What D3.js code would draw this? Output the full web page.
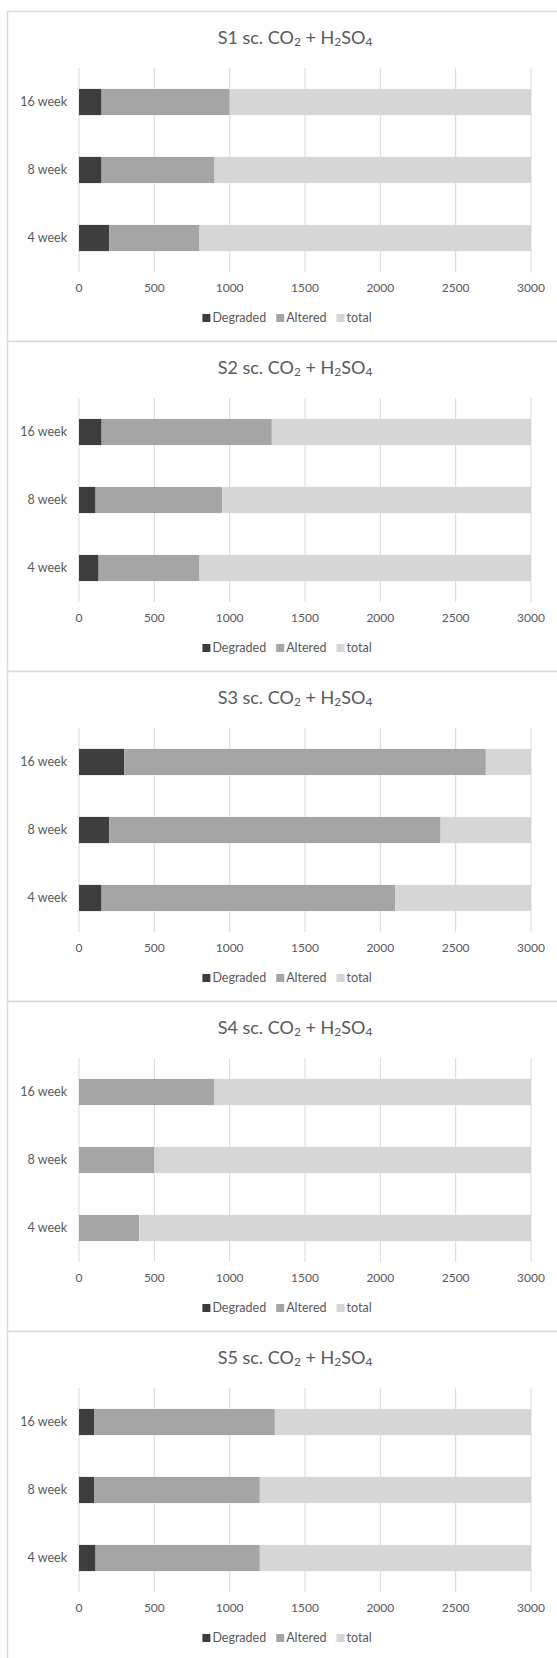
<!DOCTYPE html>
<html>
<head>
<meta charset="utf-8">
<script src="https://cdn.jsdelivr.net/npm/d3@7"></script>
<style>
  body { margin: 0; background: #fff; }
  text { font-family: Lato, "Open Sans", sans-serif; fill: #595959; }
</style>
</head>
<body>
<svg id="chart" width="557" height="1658"></svg>
<script>
let samples = ['S1', 'S2', 'S3', 'S4', 'S5'];
let weeks = ['16 week', '8 week', '4 week'];
let seriesNames = ['Degraded', 'Altered', 'total'];
let colors = ['#3d3d3d', '#a5a5a5', '#d6d6d6'];
let xTicks = [0, 500, 1000, 1500, 2000, 2500, 3000];

// one row per sample, values in weeks order (16, 8, 4)
let degraded = [
  [150, 150, 200],
  [150, 110, 130],
  [300, 200, 150],
  [0, 0, 0],
  [100, 100, 110]
];
let altered = [
  [850, 750, 600],
  [1130, 840, 670],
  [2400, 2200, 1950],
  [900, 500, 400],
  [1200, 1100, 1090]
];
let total = [
  [2000, 2100, 2200],
  [1720, 2050, 2200],
  [300, 600, 900],
  [2100, 2500, 2600],
  [1700, 1800, 1800]
];

let panelH = 330;
let top0 = 11;

let svg = d3.select('#chart');
let x = d3.scaleLinear().domain([0, 3000]).range([79, 531]);
let y = d3.scaleBand().domain(weeks).range([57, 261]).paddingInner(0.615).paddingOuter(0.3075);
let stack = d3.stack().keys(seriesNames);

samples.forEach((s, i) => {
  let g = svg.append('g').attr('transform', 'translate(0,' + (top0 + i * panelH) + ')');

  // chart frame
  g.append('rect')
    .attr('x', 7.5).attr('y', 0.5)
    .attr('width', 560).attr('height', panelH)
    .attr('fill', '#fff').attr('stroke', '#d9d9d9').attr('stroke-width', 1.5);

  // title with subscripts
  let title = g.append('text')
    .attr('x', 295).attr('y', 33)
    .attr('text-anchor', 'middle')
    .style('font-size', '18px');
  title.append('tspan').text(s + ' sc. CO');
  title.append('tspan').attr('dy', 2).style('font-size', '12px').text('2');
  title.append('tspan').attr('dy', -2).text(' + H');
  title.append('tspan').attr('dy', 2).style('font-size', '12px').text('2');
  title.append('tspan').attr('dy', -2).text('SO');
  title.append('tspan').attr('dy', 2).style('font-size', '12px').text('4');

  // vertical gridlines
  g.selectAll('.grid')
    .data(xTicks)
    .enter().append('line')
    .attr('x1', d => x(d)).attr('x2', d => x(d))
    .attr('y1', 57).attr('y2', 261)
    .attr('stroke', '#d9d9d9').attr('stroke-width', 1);

  let rows = weeks.map((w, j) => ({
    week: w,
    Degraded: degraded[i][j],
    Altered: altered[i][j],
    total: total[i][j]
  }));
  let layers = stack(rows);

  g.selectAll('.layer')
    .data(layers)
    .enter().append('g')
    .attr('fill', (d, k) => colors[k])
    .selectAll('rect')
    .data(d => d)
    .enter().append('rect')
    .attr('x', d => x(d[0]))
    .attr('width', d => x(d[1]) - x(d[0]))
    .attr('y', d => y(d.data.week))
    .attr('height', y.bandwidth());

  // category labels
  g.selectAll('.cat')
    .data(weeks)
    .enter().append('text')
    .attr('x', 67)
    .attr('y', d => y(d) + y.bandwidth() / 2)
    .attr('dy', '.35em')
    .attr('text-anchor', 'end')
    .style('font-size', '12.5px')
    .text(d => d);

  // x tick labels
  g.selectAll('.tick')
    .data(xTicks)
    .enter().append('text')
    .attr('x', d => x(d))
    .attr('y', 277)
    .attr('dy', '.35em')
    .attr('text-anchor', 'middle')
    .style('font-size', '12px')
    .text(d => d);

  // legend, centred
  let legend = g.append('g');
  let lx = 0;
  seriesNames.forEach((name, k) => {
    legend.append('rect')
      .attr('x', lx).attr('y', 303)
      .attr('width', 8).attr('height', 8)
      .attr('fill', colors[k]);
    let t = legend.append('text')
      .attr('x', lx + 10).attr('y', 307)
      .attr('dy', '.35em')
      .style('font-size', '12.5px')
      .text(name);
    lx += 10 + t.node().getComputedTextLength() + 10;
  });
  let lw = lx - 10;
  legend.attr('transform', 'translate(' + (287 - lw / 2) + ',0)');
});
</script>
</body>
</html>
